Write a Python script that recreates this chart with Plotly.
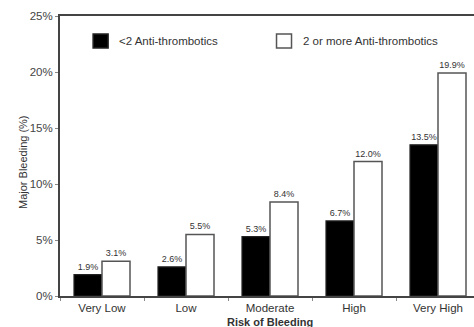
import plotly.graph_objects as go

# Bleeding risk categories and major bleeding rates (%) by anti-thrombotic count
categories = ["Very Low", "Low", "Moderate", "High", "Very High"]
under_two = [1.9, 2.6, 5.3, 6.7, 13.5]
two_or_more = [3.1, 5.5, 8.4, 12.0, 19.9]
series_names = ["<2 Anti-thrombotics", "2 or more Anti-thrombotics"]
y_ticks = [0, 5, 10, 15, 20, 25]
y_tick_labels = [f"{v}%" for v in y_ticks]

FONT = "Liberation Sans, Arial, Helvetica, sans-serif"
TEXT = "#333333"
AXIS = "#444444"

fig = go.Figure()
fig.add_trace(go.Bar(
    x=categories, y=under_two, name=series_names[0],
    marker=dict(color="#000000", line=dict(color="#222222", width=1.2)),
    text=[f"{v:.1f}%" for v in under_two], textposition="outside",
    textfont=dict(size=9, color=TEXT, family=FONT), cliponaxis=False,
    showlegend=False,
))
fig.add_trace(go.Bar(
    x=categories, y=two_or_more, name=series_names[1],
    marker=dict(color="#ffffff", line=dict(color="#555555", width=1.5)),
    text=[f"{v:.1f}%" for v in two_or_more], textposition="outside",
    textfont=dict(size=9, color=TEXT, family=FONT), cliponaxis=False,
    showlegend=False,
))

# Legend swatches and labels along the top of the plot area
legend_items = [
    (series_names[0], "#000000", "#222222", 0.080),
    (series_names[1], "#ffffff", "#555555", 0.523),
]
shapes = []
annotations = []
for name, fill, edge, x0 in legend_items:
    shapes.append(dict(
        type="rect", xref="paper", yref="paper",
        x0=x0, x1=x0 + 15 / 414, y0=1 - 32 / 280, y1=1 - 18 / 280,
        fillcolor=fill, line=dict(color=edge, width=1.5),
    ))
    annotations.append(dict(
        text=name, xref="paper", yref="paper",
        x=x0 + 24 / 414, y=1 - 25 / 280, xanchor="left", yanchor="middle",
        showarrow=False, font=dict(size=11.5, color=TEXT, family=FONT),
    ))

# Axis titles
annotations.append(dict(
    text="<b>Risk of Bleeding</b>", xref="x", yref="paper",
    x=2, y=0, yshift=-18, xanchor="center", yanchor="top", showarrow=False,
    font=dict(size=11, color=TEXT, family=FONT),
))
annotations.append(dict(
    text="Major Bleeding (%)", xref="paper", yref="paper",
    x=0, xshift=-37, y=0.5, yshift=-6, textangle=-90,
    xanchor="center", yanchor="middle", showarrow=False,
    font=dict(size=11, color=TEXT, family=FONT),
))

fig.update_layout(
    width=474, height=327,
    margin=dict(l=60, r=0, t=16, b=31),
    paper_bgcolor="white", plot_bgcolor="white",
    barmode="group", bargap=1 / 3, bargroupgap=0,
    font=dict(family=FONT, color=TEXT, size=11),
    shapes=shapes, annotations=annotations,
    xaxis=dict(
        range=[-0.5, -0.5 + 414 / 84],
        showline=True, linecolor=AXIS, linewidth=2, mirror=True,
        ticks="outside", tickson="boundaries", ticklen=3, tickcolor="#888888",
        tickfont=dict(size=11.5, color=TEXT, family=FONT),
        showgrid=False, zeroline=False,
    ),
    yaxis=dict(
        range=[0, 25], tickmode="array", tickvals=y_ticks, ticktext=y_tick_labels,
        showline=True, linecolor=AXIS, linewidth=2,
        ticks="outside", ticklen=3, tickcolor="#888888",
        tickfont=dict(size=11.5, color="#444444", family=FONT),
        showgrid=False, zeroline=False,
    ),
)

fig.write_html("out.html")
